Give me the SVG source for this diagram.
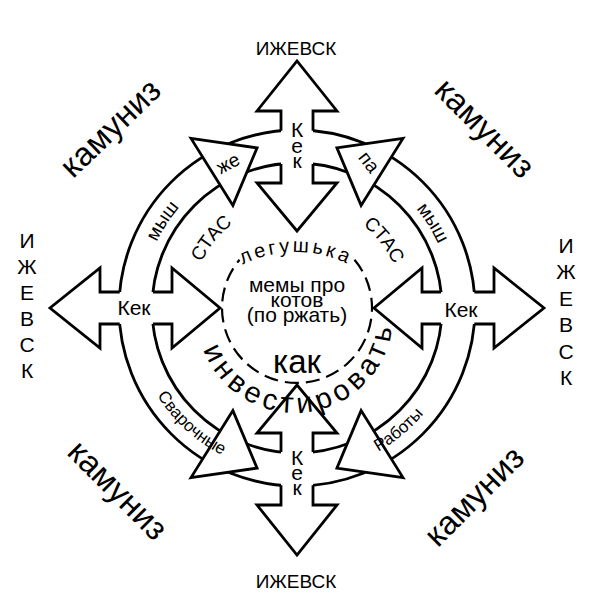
<svg xmlns="http://www.w3.org/2000/svg" width="591" height="604" viewBox="0 0 591 604">
<style>
.ln{fill:none;stroke:#000;stroke-width:2.8;stroke-linejoin:miter}
.wf{fill:#fff;stroke:none}
.hd{fill:#fff;stroke:#000;stroke-width:2.8;stroke-linejoin:miter}
.dash{fill:none;stroke:#000;stroke-width:2.2;stroke-dasharray:14 7}
text{font-family:"Liberation Sans",Arial,sans-serif;fill:#000}
.c{text-anchor:middle}
.city{font-size:19px}
.vcity{font-size:21px}
.kek{font-size:21px}
.kam{font-size:33px}
.ring{font-size:19px}
.small{font-size:17px}
.mid{font-size:21px}
</style>
<defs>
<path id="dblFill" d="M0,-77 L40,-125 L16,-125 L16,-197 L40,-197 L0,-247 L-40,-197 L-16,-197 L-16,-125 L-40,-125 Z"/>
<path id="dblLine" d="M-16,-177.3 V-197 H-40 L0,-247 L40,-197 H16 V-177.3 M-16,-144.1 V-125 H-40 L0,-77 L40,-125 H16 V-144.1"/>
<path id="ringHead" d="M-106,-169.6 L-39.9,-160.1 L-64.1,-102.6 Z"/>
<path id="arcT106" d="M191,308 A106,106 0 0 1 403,308"/>
<path id="arcT155" d="M142,308 A155,155 0 0 1 452,308"/>
<path id="arcLeg" d="M178,370 A118,118 0 0 1 414,370"/>
<path id="arcB165" d="M132,308 A165,165 0 0 0 462,308"/>
<path id="arcInv" d="M197,315 A98,98 0 0 0 393,315"/>
</defs>
<rect width="591" height="604" fill="#fff"/>

<g id="connectors" transform="translate(297,308)">
<circle r="178" class="ln"/>
<circle r="145" class="ln"/>
<use href="#ringHead" class="hd"/>
<use href="#ringHead" class="hd" transform="scale(-1,1)"/>
<use href="#ringHead" class="hd" transform="scale(1,-1)"/>
<use href="#ringHead" class="hd" transform="scale(-1,-1)"/>
</g>

<g id="arrow-north" transform="translate(297,308)"><use href="#dblFill" class="wf"/><use href="#dblLine" class="ln"/></g>
<g id="arrow-east" transform="translate(297,308) rotate(90)"><use href="#dblFill" class="wf"/><use href="#dblLine" class="ln"/></g>
<g id="arrow-south" transform="translate(297,308) rotate(180)"><use href="#dblFill" class="wf"/><use href="#dblLine" class="ln"/></g>
<g id="arrow-west" transform="translate(297,308) rotate(270)"><use href="#dblFill" class="wf"/><use href="#dblLine" class="ln"/></g>

<g id="center">
<path class="dash" d="M354.5,259.8 A75,75 0 1 1 239.5,259.8"/>
<text font-size="20" letter-spacing="3"><textPath href="#arcLeg" startOffset="50%" text-anchor="middle">легушька</textPath></text>
<text class="mid c" x="297" y="292">мемы про</text>
<text class="mid c" x="297" y="307">котов</text>
<text class="mid c" x="297" y="322">(по ржать)</text>
<text class="c" x="297" y="373" font-size="33">как</text>
<text font-size="29" letter-spacing="5"><textPath href="#arcInv" startOffset="54.4%" text-anchor="middle">инвестировать</textPath></text>
</g>

<g id="ring-labels">
<text class="ring"><textPath href="#arcT106" startOffset="21.7%" text-anchor="middle">СТАС</textPath></text>
<text class="ring"><textPath href="#arcT106" startOffset="78.9%" text-anchor="middle">СТАС</textPath></text>
<text class="ring"><textPath href="#arcT155" startOffset="18.3%" text-anchor="middle">мыш</textPath></text>
<text class="ring"><textPath href="#arcT155" startOffset="82.2%" text-anchor="middle">мыш</textPath></text>
<text class="small"><textPath href="#arcB165" startOffset="26.4%" text-anchor="middle">Сварочные</textPath></text>
<text class="small"><textPath href="#arcB165" startOffset="72.1%" text-anchor="middle">Работы</textPath></text>
<text class="ring c" transform="translate(231,169) rotate(-28)">же</text>
<text class="ring c" transform="translate(364,166) rotate(52)">па</text>
</g>

<g id="kek-labels">
<text class="kek c" x="297" y="137">К</text>
<text class="kek c" x="297" y="153">е</text>
<text class="kek c" x="297" y="168">к</text>
<text class="kek c" x="297" y="465">К</text>
<text class="kek c" x="297" y="480">е</text>
<text class="kek c" x="297" y="495">к</text>
<text class="kek c" x="134" y="315">Кек</text>
<text class="kek c" x="461" y="317">Кек</text>
</g>

<g id="cities">
<text class="city c" x="296" y="55">ИЖЕВСК</text>
<text class="city c" x="296" y="588">ИЖЕВСК</text>
<text class="vcity c" x="27" y="248">И</text>
<text class="vcity c" x="27" y="274">Ж</text>
<text class="vcity c" x="27" y="300">Е</text>
<text class="vcity c" x="27" y="326">В</text>
<text class="vcity c" x="27" y="352">С</text>
<text class="vcity c" x="27" y="378">К</text>
<text class="vcity c" x="566" y="253">И</text>
<text class="vcity c" x="566" y="279">Ж</text>
<text class="vcity c" x="566" y="306">Е</text>
<text class="vcity c" x="566" y="332">В</text>
<text class="vcity c" x="566" y="359">С</text>
<text class="vcity c" x="566" y="385">К</text>
</g>

<g id="kamuniz">
<text class="kam c" transform="translate(118,136) rotate(-44)">камуниз</text>
<text class="kam c" transform="translate(477,136) rotate(45)">камуниз</text>
<text class="kam c" transform="translate(110,498) rotate(45)">камуниз</text>
<text class="kam c" transform="translate(482,504) rotate(-45)">камуниз</text>
</g>
</svg>
